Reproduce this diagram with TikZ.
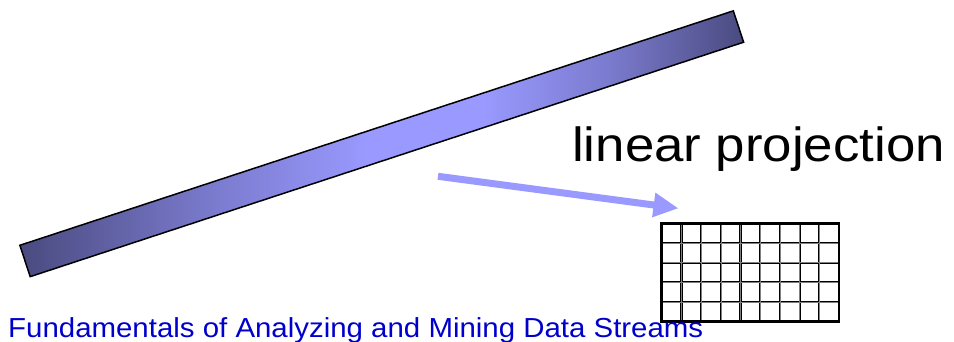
\documentclass[tikz,border=0pt]{standalone}
\usepackage{fontspec}
\setmainfont{Liberation Sans}
\usetikzlibrary{arrows.meta}
\definecolor{barend}{RGB}{74,74,128}
\definecolor{barmid}{RGB}{153,153,255}
\definecolor{arrowcol}{RGB}{153,153,255}
\definecolor{footblue}{RGB}{0,0,204}
\pgfdeclarehorizontalshading{barshade}{100bp}{color(0bp)=(barend); color(25bp)=(barend); color(38bp)=(barmid!60!barend); color(49bp)=(barmid); color(57bp)=(barmid); color(66bp)=(barmid!60!barend); color(75bp)=(barend); color(100bp)=(barend)}
\begin{document}
\begin{tikzpicture}[x=1pt,y=-1pt,
  barstyle/.style={draw=black, line width=1.5pt, inner sep=0pt, rectangle,
    minimum width=751pt, minimum height=33pt, shading=barshade},
  projarrow/.style={draw=arrowcol, line width=7pt,
    -{Triangle[length=25pt,width=23pt]}},
  gridinner/.style={line width=2.2pt, black},
  gridcenter/.style={line width=0.6pt, gray},
  gridouter/.style={line width=2.6pt, black},
  titletext/.style={inner sep=0pt, anchor=base west, font=\fontsize{48}{48}\selectfont},
  foottext/.style={inner sep=0pt, anchor=base west, text=footblue, font=\fontsize{27.5}{27.5}\selectfont}]
\useasboundingbox (0,0) rectangle (954,342);
% bar
\node[barstyle, rotate=18.19] (bar) at (381.75,143.75) {};
% arrow
\coordinate (astart) at (438,176.3);
\coordinate (aend) at (678.5,208.3);
\draw[projarrow] (astart) -- (aend);
% grid
\coordinate (gnw) at (661.7,223.3);
\coordinate (gse) at (839,321.7);
\foreach \i in {1,...,8} {
  \draw[gridinner] (661.7+\i*19.7,223.3) -- (661.7+\i*19.7,321.7);
}
\foreach \j in {1,...,4} {
  \draw[gridinner] (661.7,223.3+\j*19.68) -- (839,223.3+\j*19.68);
}
\foreach \i in {1,...,8} {
  \draw[gridcenter] (661.7+\i*19.7,223.3) -- (661.7+\i*19.7,321.7);
}
\foreach \j in {1,...,4} {
  \draw[gridcenter] (661.7,223.3+\j*19.68) -- (839,223.3+\j*19.68);
}
\draw[gridouter] (gnw) rectangle (gse);
% texts
\node[titletext] (title) at (572,162) {\scalebox{1.1}[1]{linear projection}};
\node[foottext] (foot) at (8,337) {\scalebox{1.07}[1]{Fundamentals of Analyzing and Mining Data Streams}};
\end{tikzpicture}
\end{document}
